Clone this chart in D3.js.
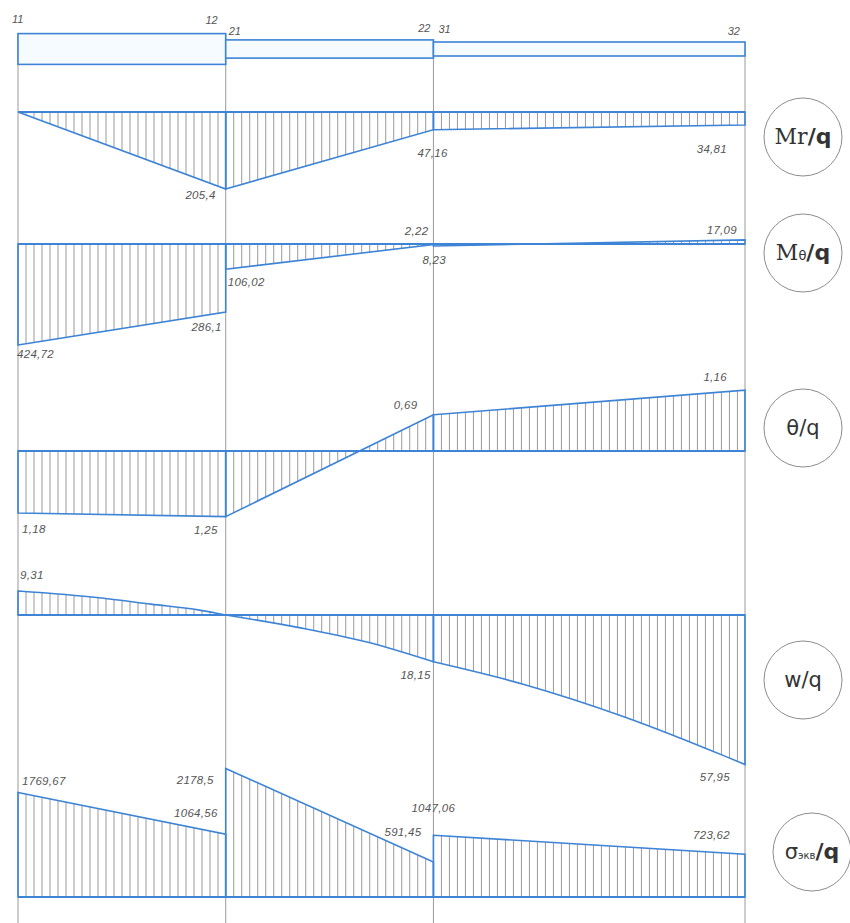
<!DOCTYPE html>
<html><head><meta charset="utf-8">
<script src="https://cdn.jsdelivr.net/npm/d3@7"></script>
<style>body{margin:0;background:#fff}</style>
</head><body>
<svg id="c" width="850" height="923"></svg>
<script>
// ---------- DATA ----------
const nodeLabels = ["11","12","21","22","31","32"];
const sectionEnds = [0, 1, 2, 3.5];           // beam coordinate of section boundaries
const thickness = [2.2, 1.3, 1.0];            // relative plate thickness per section

// each section: list of [beam coordinate, value]; sign: as plotted
const mrSections = [[[0,0],[1,205.4]], [[1,205.4],[2,47.16]], [[2,47.16],[3.5,34.81]]];
const mrLabels = ["205,4","47,16","34,81"];

const mtSections = [[[0,424.72],[1,286.1]], [[1,106.02],[2,2.22]], [[2,8.23],[3.5,-17.09]]];
const mtLabels = ["424,72","286,1","106,02","2,22","8,23","17,09"];

const thSections = [[[0,1.18],[1,1.25]], [[1,1.25],[2,-0.69]], [[2,-0.69],[3.5,-1.16]]];
const thLabels = ["1,18","1,25","0,69","1,16"];

const wSections = [
  [[0,-9.31],[0.39,-6.7],[0.64,-4.2],[0.88,-1.8],[1,0]],
  [[1,0],[1.36,5.0],[1.68,10.5],[2,18.15]],
  [[2,18.15],[2.44,27.0],[2.92,39.5],[3.4,54.6],[3.5,57.95]]
];
const wLabels = ["9,31","18,15","57,95"];

const sgSections = [[[0,1769.67],[1,1064.56]], [[1,2178.5],[2,591.45]], [[2,1047.06],[3.5,723.62]]];
const sgLabels = ["1769,67","2178,5","1064,56","591,45","1047,06","723,62"];

// ---------- LAYOUT ----------
const svg = d3.select("#c");
const defs = svg.append("defs");
const BLUE = "#3d84d6", GRAY = "#9a9a9a", TXT = "#555";
const x = d3.scaleLinear().domain([0, 3.5]).range([18, 745]);
const tScale = d3.scaleLinear().domain([0, 1]).range([0, 14]);
const beamY = 49;
let clipId = 0;

// vertical guide lines
const guideTops = [0, 0, 1, 2];
sectionEnds.forEach((e, i) => {
  svg.append("line").attr("x1", x(e)).attr("x2", x(e))
    .attr("y1", beamY - tScale(thickness[guideTops[i]]) / 2).attr("y2", 923)
    .attr("stroke", GRAY).attr("stroke-width", 1);
});

// beam boxes
thickness.forEach((t, i) => {
  svg.append("rect").attr("x", x(sectionEnds[i])).attr("width", x(sectionEnds[i+1]) - x(sectionEnds[i]))
    .attr("y", beamY - tScale(t) / 2).attr("height", tScale(t))
    .attr("fill", "#f6fbff").attr("stroke", BLUE).attr("stroke-width", 1.6);
});

// node labels
const nodeOff = [[-6,-11,"start"],[-8,-10,"end"],[3,-5,"start"],[-3,-8,"end"],[5,-9,"start"],[-5,-7,"end"]];
nodeLabels.forEach((lab, j) => {
  const sec = j < 2 ? 0 : (j < 4 ? 1 : 2);
  const e = sectionEnds[sec + (j % 2)];
  const o = nodeOff[j];
  svg.append("text").attr("x", x(e) + o[0]).attr("y", beamY - tScale(thickness[sec]) / 2 + o[1])
    .attr("text-anchor", o[2]).attr("font-family", "Liberation Sans, sans-serif")
    .attr("font-style", "italic").attr("font-size", 11).attr("fill", TXT).text(lab);
});

function drawDiagram(cfg) {
  const y = d3.scaleLinear().domain([0, 1]).range([cfg.base, cfg.base + cfg.dir * cfg.k]);
  const g = svg.append("g");
  cfg.sections.forEach((sec) => {
    const x0 = x(sec[0][0]), x1 = x(sec[sec.length-1][0]);
    const area = d3.area().x(d => x(d[0])).y0(y(0)).y1(d => y(d[1])).curve(d3.curveMonotoneX);
    const id = "clip" + (clipId++);
    defs.append("clipPath").attr("id", id).append("path").attr("d", area(sec));
    const vals = sec.map(d => y(d[1]));
    const lo = Math.min(y(0), ...vals), hi = Math.max(y(0), ...vals);
    const hg = g.append("g").attr("clip-path", `url(#${id})`);
    d3.range(x0 + 8, x1 - 1, 8).forEach(px => {
      hg.append("line").attr("x1", px).attr("x2", px).attr("y1", lo).attr("y2", hi)
        .attr("stroke", GRAY).attr("stroke-width", 1);
    });
    // outline
    g.append("path").attr("d", area(sec))
      .attr("fill", "none").attr("stroke", BLUE).attr("stroke-width", 1.6);
  });
  // baseline
  g.append("line").attr("x1", x(0)).attr("x2", x(3.5)).attr("y1", y(0)).attr("y2", y(0))
    .attr("stroke", BLUE).attr("stroke-width", 1.8);
  // labels
  cfg.labelAt.forEach((la, i) => {
    const p = cfg.sections[la[0]][la[1] === 0 ? 0 : cfg.sections[la[0]].length - 1];
    g.append("text").attr("x", x(p[0]) + la[2]).attr("y", y(p[1]) + la[3])
      .attr("text-anchor", la[4]).attr("font-family", "Liberation Sans, sans-serif")
      .attr("font-style", "italic").attr("font-size", 11.5).attr("letter-spacing", 0.3)
      .attr("fill", TXT).text(cfg.labels[i]);
  });
  // circle title
  const c = cfg.circle;
  svg.append("circle").attr("cx", c[0]).attr("cy", c[1]).attr("r", 39)
    .attr("fill", "#fff").attr("stroke", "#8c8c8c").attr("stroke-width", 1);
  const t = svg.append("text").attr("x", c[0]).attr("y", c[1] + 7).attr("text-anchor", "middle")
    .attr("fill", "#333");
  cfg.title.forEach(tp => {
    t.append("tspan").attr("font-family", tp[1]).attr("font-size", tp[2])
      .attr("font-weight", tp[3] || "normal").text(tp[0]);
  });
}

const SERIF = "DejaVu Serif, serif", SANS = "DejaVu Sans, sans-serif";

drawDiagram({sections: mrSections, labels: mrLabels, base: 112, k: 0.375, dir: 1,
  labelAt: [[0,1,-10,10,"end"],[1,1,-16,27,"start"],[2,1,-18,28,"end"]],
  circle: [803,137], title: [["Mr",SERIF,22],["/q",SANS,22,"bold"]]});

drawDiagram({sections: mtSections, labels: mtLabels, base: 244, k: 0.238, dir: 1,
  labelAt: [[0,0,-1,13,"start"],[0,1,-4,19,"end"],[1,0,2,17,"start"],[1,1,-5,-10,"end"],[2,0,-11,18,"start"],[2,1,-8,-6,"end"]],
  circle: [803,253], title: [["M",SERIF,22],["θ",SANS,13],["/q",SANS,22,"bold"]]});

drawDiagram({sections: thSections, labels: thLabels, base: 451, k: 52.5, dir: 1,
  labelAt: [[0,0,4,20,"start"],[0,1,-8,17,"end"],[1,1,-16,-6,"end"],[2,1,-18,-9,"end"]],
  circle: [803,428], title: [["θ/q",SANS,21]]});

drawDiagram({sections: wSections, labels: wLabels, base: 615, k: 2.58, dir: 1,
  labelAt: [[0,0,2,-12,"start"],[1,1,-33,17,"start"],[2,1,-15,16,"end"]],
  circle: [803,680], title: [["w/q",SANS,21]]});

drawDiagram({sections: sgSections, labels: sgLabels, base: 897, k: 0.059, dir: -1,
  labelAt: [[0,0,4,-8,"start"],[1,0,-12,16,"end"],[0,1,-8,-17,"end"],[1,1,-12,-26,"end"],[2,0,-22,-23,"start"],[2,1,-15,-15,"end"]],
  circle: [812,852], title: [["σ",SANS,21],["экв",SANS,10],["/q",SANS,22,"bold"]]});
</script>
</body></html>
